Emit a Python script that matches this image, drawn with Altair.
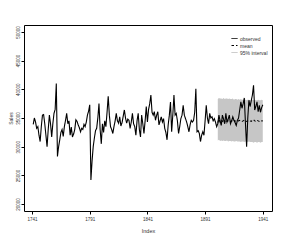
import altair as alt
import pandas as pd

# ---- data ----
year_start = 1742
sales = [
    33900, 35000, 34300, 33200, 33500, 32000, 30900, 33500, 35500, 35600,
    34000, 32000, 30000, 33000, 35500, 34000, 31700, 34000, 35800, 36500,
    41000, 28300, 30000, 31200, 32500, 33000, 31800, 33500, 34600, 35800,
    34000, 34500, 32000, 33400, 31700, 32200, 33000, 34700, 34400, 33800,
    33300, 32600, 33200, 33000, 33900, 33500, 34300, 35500, 36200, 37300,
    24200,
    27500, 30000, 31500, 32800, 33200, 35000, 37500, 33000, 30500, 34000,
    32500, 34500, 33500, 36000, 38800, 35500, 33500, 33000, 32300, 33500,
    34500, 35800, 34500, 34100, 35200, 33600, 34200, 35300, 36400, 35000,
    34100, 34800, 34600, 33200, 34300, 35800, 34000, 33500, 32000, 34500,
    35800, 33000, 31700, 35500, 34000, 32300, 34500, 37000, 34300,
    36500, 37500, 39000, 36000, 35500, 36100, 34600, 35500, 36100, 33800,
    34500, 35200, 34300, 34900, 33200, 32500, 31200, 33800, 35500, 37800,
    32600, 35500, 39000, 35500, 35800, 34500, 32300, 33500, 34900, 35500,
    37200, 35500, 34900, 34300, 33500, 32600, 33800, 34600, 34300, 34600,
    36000, 40100, 32600, 32800, 32300, 30900, 32000, 32600, 32000, 34500,
    37200, 35000, 34000,
    35800, 35000, 35200, 34500, 34900, 34300, 33500, 34000, 35500, 34500,
    33700, 35500, 34800, 34000, 35800, 34300, 34800, 35500, 34000, 34500,
    35200, 34600, 34200, 33700, 34600, 35000, 36400, 37800, 36700, 37500,
    38500, 34000, 30000, 35000, 38100, 37000, 38000, 39000, 40700, 36400,
    37000, 37800, 36100, 37200, 36000, 36800, 37300,
]
fc_start = 1902
fc_mean = [
    34200, 34800, 34300, 34600, 34400, 34700, 34300, 34600, 34400, 34500,
    34600, 34400, 34500, 34400, 34600, 34500, 34400, 34500, 34500, 34600,
    34500, 34400, 34500, 34600, 34500, 34400, 34500, 34600, 34500, 34400,
    34600, 34700, 34500, 34400, 34600, 34500, 34400, 34500, 34500, 34500,
]
fc_upper = [
    38300, 38500, 38400, 38400, 38300, 38500, 38300, 38400, 38400, 38300,
    38400, 38300, 38300, 38400, 38200, 38300, 38300, 38200, 38300, 38200,
    38300, 38200, 38200, 38300, 38200, 38100, 38200, 38200, 38100, 38200,
    38200, 38100, 38200, 38100, 38100, 38200, 38100, 38100, 38200, 38100,
]
fc_lower = [
    31100, 31200, 31000, 31100, 31000, 31100, 31000, 31000, 31100, 30900,
    31000, 31000, 30900, 31000, 30900, 30900, 31000, 30900, 30900, 30900,
    30800, 30900, 30900, 30800, 30900, 30800, 30800, 30900, 30800, 30800,
    30800, 30700, 30800, 30800, 30700, 30800, 30800, 30700, 30800, 30800,
]
x_ticks = [1741, 1791, 1841, 1891, 1941]
y_ticks = [20000, 25000, 30000, 35000, 40000, 45000, 50000]
series = ["observed", "mean", "95% interval"]
series_colors = ["#000000", "#000000", "#bdbdbd"]
series_dash = [[1, 0], [2.5, 2], [1, 0]]

years_obs = list(range(year_start, year_start + len(sales)))
years_fc = list(range(fc_start, fc_start + len(fc_mean)))

obs = pd.DataFrame({"Index": years_obs, "Sales": sales, "series": "observed"})
mean_df = pd.DataFrame({"Index": years_fc, "Sales": fc_mean, "series": "mean"})
lines = pd.concat([mean_df, obs], ignore_index=True)
band = pd.DataFrame({"Index": years_fc, "lower": fc_lower, "upper": fc_upper})

FONT = "Liberation Sans"
xs = alt.Scale(domain=[1734, 1949], nice=False, zero=False)
ys = alt.Scale(domain=[18800, 51200], nice=False, zero=False)

x_axis = alt.Axis(values=x_ticks, format="d", title="Index", grid=False, domain=False,
                  tickSize=3, tickColor="#000000", tickWidth=1, labelOverlap=False,
                  labelFontSize=4.5, labelPadding=2.5, labelColor="#333333", labelFont=FONT,
                  titleFontSize=5.5, titlePadding=7, titleFont=FONT, titleFontWeight="normal",
                  titleColor="#333333")
y_axis = alt.Axis(values=y_ticks, format="d", title="Sales", grid=False, domain=False,
                  tickSize=3, tickColor="#000000", tickWidth=1, labelOverlap=False,
                  labelFlush=False, labelBound=False,
                  labelFontSize=4.5, labelPadding=1, labelColor="#333333", labelFont=FONT,
                  labelAngle=270, labelAlign="center", labelBaseline="bottom",
                  titleFontSize=5, titlePadding=2, titleFont=FONT, titleFontWeight="normal",
                  titleColor="#333333")

legend = alt.Legend(title=None, orient="none", legendX=207, legendY=10,
                    symbolType="stroke", symbolSize=36, symbolStrokeWidth=1,
                    labelFontSize=5, labelFont=FONT, labelColor="#333333",
                    labelOffset=2, rowPadding=-2.6)

area = alt.Chart(band).mark_area(color="#c6c6c6", opacity=1).encode(
    x=alt.X("Index:Q", scale=xs, axis=x_axis),
    y=alt.Y("lower:Q", scale=ys, axis=y_axis),
    y2="upper:Q",
)

line = alt.Chart(lines).mark_line(strokeWidth=1.1).encode(
    x=alt.X("Index:Q", scale=xs, axis=x_axis),
    y=alt.Y("Sales:Q", scale=ys, axis=y_axis),
    color=alt.Color("series:N", scale=alt.Scale(domain=series, range=series_colors), legend=legend),
    strokeDash=alt.StrokeDash("series:N", scale=alt.Scale(domain=series, range=series_dash), legend=legend),
)

chart = (area + line).properties(
    width=248, height=186,
    padding={"left": 16, "top": 17, "right": 5, "bottom": 28},
    autosize=alt.AutoSizeParams(type="none"),
    background="white",
).configure_view(stroke="#000000", strokeWidth=1).configure_axis(labelOverlap=False)

chart.save("out.html", embed_options={"renderer": "svg", "actions": False})
